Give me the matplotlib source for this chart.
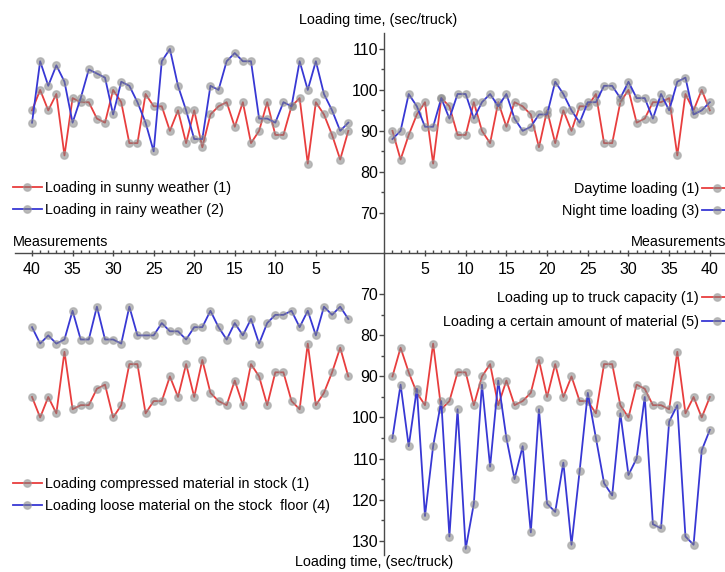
import numpy as np
import matplotlib.pyplot as plt
from matplotlib.ticker import FixedLocator

plt.rcParams['font.family'] = ['Liberation Sans', 'DejaVu Sans']

# measurement number 1..40, loading time in sec/truck
measurements = np.arange(1, 41)
load_base = [90, 83, 89, 94, 97, 82, 98, 96, 89, 89, 97, 90, 87, 97, 91, 97, 96, 94, 86, 95,
             87, 95, 90, 96, 96, 99, 87, 87, 97, 100, 92, 93, 97, 97, 98, 84, 99, 95, 100, 95]
load_rainy = [92, 90, 95, 99, 107, 100, 107, 96, 97, 92, 93, 93, 107, 107, 109, 107, 100, 101, 88, 88,
              95, 101, 110, 107, 85, 92, 97, 101, 102, 94, 103, 104, 105, 98, 92, 102, 106, 101, 107, 92]
load_night = [88, 90, 99, 96, 91, 91, 98, 93, 99, 99, 93, 97, 99, 96, 99, 93, 90, 91, 94, 94,
              102, 99, 95, 92, 97, 97, 101, 101, 98, 102, 98, 98, 93, 99, 95, 102, 103, 94, 95, 97]
load_loose = [76, 73, 75, 73, 80, 74, 78, 74, 75, 75, 77, 82, 76, 80, 77, 81, 78, 74, 78, 78,
              81, 79, 79, 77, 80, 80, 80, 73, 82, 81, 81, 73, 81, 81, 74, 81, 82, 80, 82, 78]
load_amount = [105, 92, 107, 93, 124, 107, 96, 129, 98, 132, 121, 92, 112, 91, 105, 115, 107, 128, 98, 121,
               123, 111, 131, 113, 94, 105, 116, 119, 99, 114, 110, 95, 126, 127, 101, 97, 129, 131, 108, 103]

W, H = 725, 572
fig = plt.figure(figsize=(W / 100, H / 100), dpi=100)


def box(x0, y0, x1, y1):
    return [x0 / W, 1 - y1 / H, (x1 - x0) / W, (y1 - y0) / H]


cx, cy = 384.3, 253.3
ax_tl = fig.add_axes(box(15, 33, cx, cy))
ax_tr = fig.add_axes(box(cx, 33, W, cy))
ax_bl = fig.add_axes(box(15, cy, cx, 555))
ax_br = fig.add_axes(box(cx, cy, W, 555))

axcol = '#4a4a4a'
red = '#e83e3e'
blue = '#3838d4'


def series(ax, y, color, label):
    ax.plot(measurements, y, color=color, lw=1.3, marker='o', ms=5.5,
            mfc=(0.5, 0.5, 0.5, 0.55), mec=(0.62, 0.62, 0.62, 0.5), mew=1.0, label=label)


series(ax_tl, load_base, red, 'Loading in sunny weather (1)')
series(ax_tl, load_rainy, blue, 'Loading in rainy weather (2)')
series(ax_tr, load_base, red, 'Daytime loading (1)')
series(ax_tr, load_night, blue, 'Night time loading (3)')
series(ax_bl, load_base, red, 'Loading compressed material in stock (1)')
series(ax_bl, load_loose, blue, 'Loading loose material on the stock  floor (4)')
series(ax_br, load_base, red, 'Loading up to truck capacity (1)')
series(ax_br, load_amount, blue, 'Loading a certain amount of material (5)')

for ax in (ax_tl, ax_bl):
    ax.set_xlim(42.1, -3.44)
for ax in (ax_tr, ax_br):
    ax.set_xlim(0, 41.86)
for ax in (ax_tl, ax_tr):
    ax.set_ylim(60.1, 113.9)
for ax in (ax_bl, ax_br):
    ax.set_ylim(133.5, 60.0)

for ax in (ax_tl, ax_tr, ax_bl, ax_br):
    ax.patch.set_alpha(0)
    for s in ax.spines.values():
        s.set_visible(False)
        s.set_color(axcol)
        s.set_linewidth(1.0)

# shared horizontal axis (measurements)
for ax in (ax_tl, ax_tr):
    ax.spines['bottom'].set_visible(True)
    ax.xaxis.set_major_locator(FixedLocator(range(5, 41, 5)))
    ax.xaxis.set_minor_locator(FixedLocator(range(1, 41)))
    ax.tick_params(axis='x', which='major', direction='inout', length=5, width=1,
                   color=axcol, labelsize=11.5, pad=4)
    ax.tick_params(axis='x', which='minor', direction='in', length=2.5, width=1, color=axcol)
for ax in (ax_bl, ax_br):
    ax.set_xticks([])

# vertical axis (loading time)
for ax in (ax_tr, ax_br):
    ax.spines['left'].set_visible(True)
    ax.tick_params(axis='y', which='major', direction='out', length=3.5, width=1,
                   color=axcol, labelsize=11.5, pad=1)
    ax.tick_params(axis='y', which='minor', direction='out', length=2, width=1, color=axcol)
ax_tr.set_yticks(range(70, 111, 10))
ax_tr.yaxis.set_minor_locator(FixedLocator(range(75, 110, 10)))
ax_br.set_yticks(range(70, 131, 10))
ax_br.yaxis.set_minor_locator(FixedLocator(range(75, 130, 10)))
ax_tl.set_yticks([])
ax_bl.set_yticks([])

leg_kw = dict(frameon=False, fontsize=10.4, borderpad=0, borderaxespad=0,
              handlelength=2.0, handletextpad=0.2, labelspacing=0.55,
              bbox_transform=fig.transFigure)
ax_tl.legend(loc='center left', bbox_to_anchor=(13 / W, 1 - 199 / H), **leg_kw)
ax_bl.legend(loc='center left', bbox_to_anchor=(13 / W, 1 - 495 / H), **leg_kw)
ax_tr.legend(loc='center right', bbox_to_anchor=(731 / W, 1 - 200 / H), markerfirst=False, **leg_kw)
leg_kw['labelspacing'] = 0.7
ax_br.legend(loc='center right', bbox_to_anchor=(731 / W, 1 - 310 / H), markerfirst=False, **leg_kw)

fig.text(378 / W, 1 - 20 / H, 'Loading time, (sec/truck)', ha='center', va='center', fontsize=10.4)
fig.text(374 / W, 1 - 562 / H, 'Loading time, (sec/truck)', ha='center', va='center', fontsize=10.4)
fig.text(13 / W, 1 - 242 / H, 'Measurements', ha='left', va='center', fontsize=10.4)
fig.text(631 / W, 1 - 242 / H, 'Measurements', ha='left', va='center', fontsize=10.4)

fig.savefig('out.png', dpi=100)
